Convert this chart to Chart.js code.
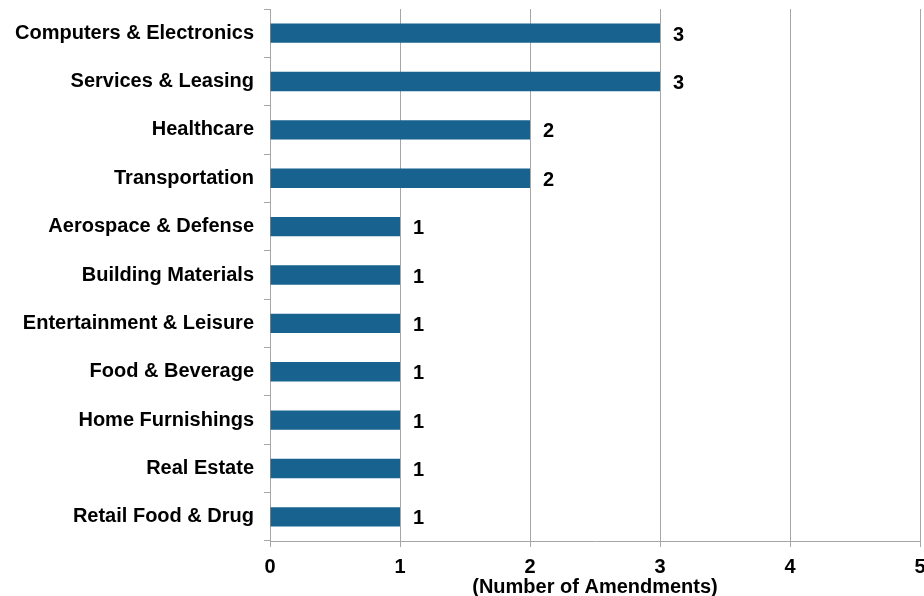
<!DOCTYPE html>
<html>
<head>
<meta charset="utf-8">
<script src="https://cdn.jsdelivr.net/npm/chart.js@4/dist/chart.umd.min.js"></script>
<style>
  html, body { margin: 0; padding: 0; background: #ffffff; }
  #wrap { width: 924px; height: 596px; position: relative; }
</style>
</head>
<body>
<div id="wrap"><canvas id="c" width="924" height="596"></canvas></div>
<script>
const categories = [
  "Computers & Electronics",
  "Services & Leasing",
  "Healthcare",
  "Transportation",
  "Aerospace & Defense",
  "Building Materials",
  "Entertainment & Leisure",
  "Food & Beverage",
  "Home Furnishings",
  "Real Estate",
  "Retail Food & Drug"
];
const amendments = [3, 3, 2, 2, 1, 1, 1, 1, 1, 1, 1];
const xTicks = [0, 1, 2, 3, 4, 5];
const axisTitle = "(Number of Amendments)";

const FONT = "'Liberation Sans', Arial, sans-serif";
const FS = 20;
const GRID = "#a6a6a6";

const valueLabels = {
  id: "valueLabels",
  afterDatasetsDraw(chart) {
    const ctx = chart.ctx;
    const meta = chart.getDatasetMeta(0);
    ctx.save();
    ctx.font = "bold " + FS + "px " + FONT;
    ctx.fillStyle = "#000000";
    ctx.textAlign = "left";
    ctx.textBaseline = "middle";
    meta.data.forEach((bar, i) => {
      ctx.fillText(String(chart.data.datasets[0].data[i]), bar.x + 13, bar.y + 2);
    });
    ctx.restore();
  }
};

new Chart(document.getElementById("c"), {
  type: "bar",
  data: {
    labels: categories,
    datasets: [{
      data: amendments,
      backgroundColor: "#17628f",
      borderWidth: 0,
      categoryPercentage: 1.0,
      barPercentage: 0.4
    }]
  },
  options: {
    indexAxis: "y",
    responsive: false,
    animation: false,
    devicePixelRatio: 1,
    layout: { padding: { top: 9, right: 4, left: 0, bottom: 0 } },
    plugins: {
      legend: { display: false },
      tooltip: { enabled: false }
    },
    scales: {
      x: {
        min: 0,
        max: 5,
        afterBuildTicks(scale) { scale.ticks = xTicks.map(v => ({ value: v })); },
        afterFit(scale) {
          scale.height = 55;
          scale.paddingLeft = 0;
          scale.paddingRight = 0;
        },
        ticks: {
          stepSize: 1,
          color: "#000000",
          padding: 8,
          font: { family: FONT, size: FS, weight: "bold" }
        },
        grid: {
          color: GRID,
          lineWidth: 1,
          tickLength: 6,
          drawOnChartArea: true,
          drawTicks: true
        },
        border: { color: GRID, width: 1 },
        title: {
          display: true,
          text: axisTitle,
          color: "#000000",
          padding: { top: 0, bottom: -3 },
          font: { family: FONT, size: FS, weight: "bold" }
        }
      },
      y: {
        afterFit(scale) {
          scale.width = 270;
          scale.paddingTop = 0;
          scale.paddingBottom = 0;
        },
        ticks: {
          color: "#000000",
          padding: 10,
          font: { family: FONT, size: FS, weight: "bold" }
        },
        grid: {
          offset: true,
          color: GRID,
          lineWidth: 1,
          tickLength: 6,
          drawOnChartArea: false,
          drawTicks: true
        },
        border: { color: GRID, width: 1 }
      }
    }
  },
  plugins: [valueLabels]
});
</script>
</body>
</html>
